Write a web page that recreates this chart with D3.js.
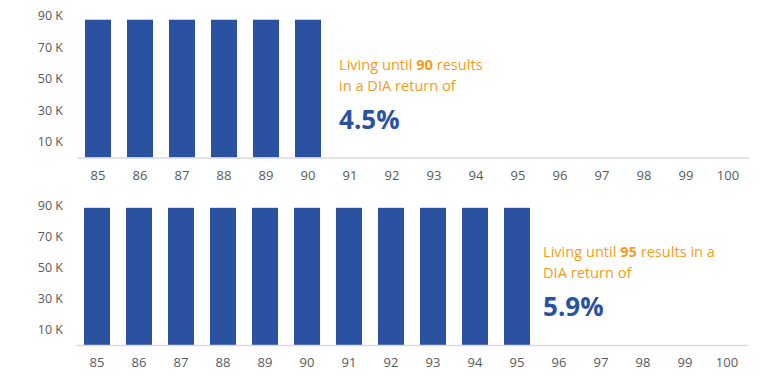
<!DOCTYPE html>
<html>
<head>
<meta charset="utf-8">
<script src="https://cdn.jsdelivr.net/npm/d3@7"></script>
<style>
  body { margin: 0; background: #fff; }
  svg text { font-family: "Open Sans", "Noto Sans", sans-serif; }
</style>
</head>
<body>
<div class="chart"></div>
<script>
// Data
var ages = [85, 86, 87, 88, 89, 90, 91, 92, 93, 94, 95, 96, 97, 98, 99, 100];
var balance90 = [87500, 87500, 87500, 87500, 87500, 87500, 0, 0, 0, 0, 0, 0, 0, 0, 0, 0];
var balance95 = [88500, 88500, 88500, 88500, 88500, 88500, 88500, 88500, 88500, 88500, 88500, 0, 0, 0, 0, 0];
var yTicks = [10000, 30000, 50000, 70000, 90000];
var panels = [
  { values: balance90, lastAge: 90, ret: "4.5%", lines: [["Living until ", "90", " results"], ["in a DIA return of"]] },
  { values: balance95, lastAge: 95, ret: "5.9%", lines: [["Living until ", "95", " results in a"], ["DIA return of"]] }
];

var svgWidth = 764;
var svgHeight = 381;
var barColor = "#2a52a0";
var orange = "#f59c1a";

var svg = d3.select(".chart").append("svg")
  .attr("width", svgWidth)
  .attr("height", svgHeight);

// y of the 90K tick and of the baseline for each panel
var layout = [
  { top: 15.8, base: 157.5, left: 77, right: 749, textX: 18 },
  { top: 205.5, base: 345, left: 76, right: 748, textX: 13 }
];

panels.forEach(function(p, i) {
  var L = layout[i];
  var x = d3.scaleBand().domain(ages).range([L.left, L.right]).paddingInner(0.38).paddingOuter(0.19);
  var y = d3.scaleLinear().domain([0, 90000]).range([L.base, L.top]);
  var g = svg.append("g");

  // y labels
  g.selectAll(".ylab").data(yTicks).enter().append("text")
    .attr("x", 63)
    .attr("y", function(d) { return y(d); })
    .attr("dy", "0.35em")
    .attr("text-anchor", "end")
    .style("font-size", "12.5px")
    .attr("fill", "#595959")
    .text(function(d) { return (d / 1000) + " K"; });

  // bars
  g.selectAll("rect").data(p.values).enter().append("rect")
    .attr("x", function(d, j) { return x(ages[j]); })
    .attr("width", x.bandwidth())
    .attr("y", function(d) { return y(d); })
    .attr("height", function(d) { return L.base - y(d); })
    .attr("fill", barColor);

  // x axis
  var xAxis = g.append("g")
    .attr("transform", "translate(0," + L.base + ")")
    .call(d3.axisBottom(x).tickSize(0).tickPadding(13));
  xAxis.select(".domain").attr("stroke", "#d9d9d9").attr("stroke-width", 1.3);
  xAxis.selectAll("text")
    .style("font-size", "13px")
    .style("font-family", "'Open Sans', sans-serif")
    .attr("fill", "#595959");

  // annotation
  var tx = x(p.lastAge) + x.bandwidth() + L.textX;
  var ty = [L.base - 88, L.base - 67];
  p.lines.forEach(function(parts, k) {
    var t = g.append("text")
      .attr("x", tx)
      .attr("y", ty[k])
      .style("font-size", "14.6px")
      .attr("fill", orange);
    parts.forEach(function(s, m) {
      t.append("tspan")
        .attr("font-weight", m === 1 ? "bold" : "normal")
        .text(s);
    });
  });
  g.append("text")
    .attr("x", tx)
    .attr("y", L.base - 29)
    .style("font-size", "26px")
    .attr("font-weight", "bold")
    .attr("fill", barColor)
    .text(p.ret);
});
</script>
</body>
</html>
